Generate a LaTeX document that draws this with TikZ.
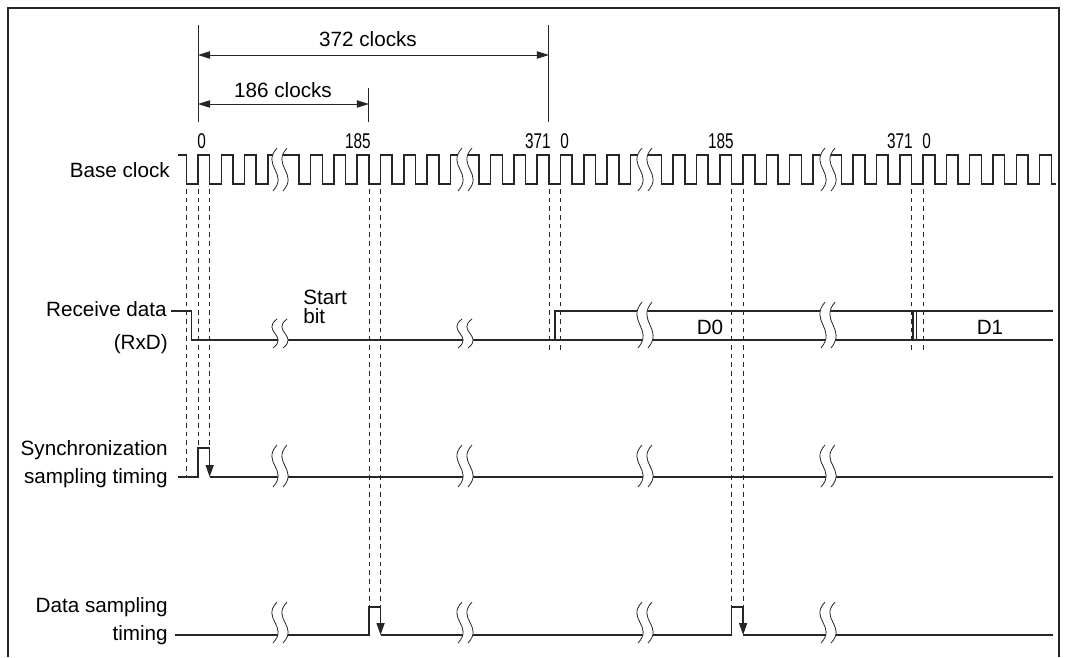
\documentclass[tikz,border=0pt]{standalone}
\usepackage{fontspec}
\setmainfont{Liberation Sans}
\usepackage{graphicx}
\usepackage{tikz}
\usetikzlibrary{arrows.meta,calc}

\tikzset{
  sig/.style={line width=1.15pt, line join=miter, black!85},
  guide/.style={dash pattern=on 3.5pt off 3pt, line width=0.6pt, black!85},
  dim/.style={line width=0.7pt, black!85},
  dimarrow/.style={dim, {Triangle[length=9pt,width=5.5pt]}-{Triangle[length=9pt,width=5.5pt]}},
  samplearrow/.style={sig, -{Triangle[length=9pt,width=6pt]}},
  rowlabel/.style={anchor=base east, inner sep=0pt},
  ticklabel/.style={inner sep=0pt, font=\fontsize{16}{18}\selectfont},
}

% break mark: x centre, top, bottom
\newcommand{\sigbreak}[3]{%
  \pgfmathsetmacro{\brkup}{#2+0.42*(#3-#2)}%
  \pgfmathsetmacro{\brklo}{#3-0.42*(#3-#2)}%
  \fill[white] (#1-3,#2) .. controls (#1-19,\brkup) and (#1+9,\brklo) .. (#1-7,#3)
    -- (#1+3,#3) .. controls (#1+19,\brklo) and (#1-9,\brkup) .. (#1+7,#2) -- cycle;
  \draw[line width=0.6pt, black!85] (#1-3,#2) .. controls (#1-19,\brkup) and (#1+9,\brklo) .. (#1-7,#3);
  \draw[line width=0.6pt, black!85] (#1+7,#2) .. controls (#1-9,\brkup) and (#1+19,\brklo) .. (#1+3,#3);
}

\begin{document}
\begin{tikzpicture}[x=0.75pt, y=-0.75pt, font=\fontsize{15.5}{18}\selectfont]
    \useasboundingbox (0,0) rectangle (1066,657);
    \def\hi{155}
    \def\lo{184}
    \def\hp{11.65}
    \def\per{23.3}

    % frame
    \draw[line width=0.8pt, black!85] (8,657) -- (8,8) -- (1059,8) -- (1059,657);

    % base clock
    \draw[sig] (178,\hi) -- (186.35,\hi) -- (186.35,\lo)
      \foreach \R in {198,560.55} {
        \foreach \n in {0,1,2} {
          -- (\R+\n*\per,\lo) -- (\R+\n*\per,\hi) -- (\R+\n*\per+\hp,\hi) -- (\R+\n*\per+\hp,\lo)
        }
        -- (\R+3*\per,\lo) -- (\R+3*\per,\hi) -- (\R+101,\hi) -- (\R+101,\lo)
        \foreach \n in {0,...,5} {
          -- (\R+101+\n*\per+\hp,\lo) -- (\R+101+\n*\per+\hp,\hi) -- (\R+101+\n*\per+\per,\hi) -- (\R+101+\n*\per+\per,\lo)
        }
        -- (\R+252.45,\lo) -- (\R+252.45,\hi) -- (\R+281,\hi) -- (\R+281,\lo)
        \foreach \n in {0,1,2} {
          -- (\R+281+\n*\per+\hp,\lo) -- (\R+281+\n*\per+\hp,\hi) -- (\R+281+\n*\per+\per,\hi) -- (\R+281+\n*\per+\per,\lo)
        }
      }
      \foreach \n in {0,...,5} {
        -- (923.1+\n*\per,\lo) -- (923.1+\n*\per,\hi) -- (923.1+\n*\per+\hp,\hi) -- (923.1+\n*\per+\hp,\lo)
      }
      -- (1056,\lo);

    % receive data
    \draw[sig] (171,311) -- (191.7,311) -- (191.7,340) -- (1053,340);
    \draw[sig] (555,340) -- (555,311) -- (1053,311);
    \draw[sig] (913,311) -- (913,340);
    \draw[sig] (916.5,311) -- (916.5,340);

    % synchronization sampling
    \draw[sig] (178,477) -- (198,477) -- (198,448) -- (209.65,448);
    \draw[samplearrow] (209.65,448) -- (209.65,477);
    \draw[sig] (209.65,477) -- (1053,477);

    % data sampling
    \draw[sig] (175,635) -- (368.9,635) -- (368.9,607) -- (380.55,607);
    \draw[samplearrow] (380.55,607) -- (380.55,635);
    \draw[sig] (380.55,635) -- (731.45,635) -- (731.45,607) -- (743.1,607);
    \draw[samplearrow] (743.1,607) -- (743.1,635);
    \draw[sig] (743.1,635) -- (1053,635);

    % breaks
    \foreach \b in {280,465,645,828} {
        \sigbreak{\b}{148}{191}
        \sigbreak{\b}{445}{487}
        \sigbreak{\b}{602}{643}
    }
    \sigbreak{280}{319}{348}
    \sigbreak{465}{319}{348}
    \sigbreak{645}{302}{348}
    \sigbreak{828}{302}{348}

    % guide lines
    \foreach \x/\y in {186.35/477, 198/448, 209.65/448, 368.9/607, 380.55/607,
                       548.9/350, 560.55/350, 731.45/607, 743.1/607, 911.45/350, 923.1/350} {
        \draw[guide] (\x,189) -- (\x,\y);
    }

    % clock counts
    \coordinate (w372) at (198,55);
    \coordinate (e372) at (548.9,55);
    \coordinate (w186) at (198,104);
    \coordinate (e186) at (368.9,104);
    \draw[dim] (198,25) -- (198,122);
    \draw[dim] (548.9,25) -- (548.9,122);
    \draw[dim] (368.9,88) -- (368.9,122);
    \draw[dimarrow] (w372) -- (e372);
    \draw[dimarrow] (w186) -- (e186);
    \node[anchor=base, inner sep=0pt] (lbl372) at (368,46) {372 clocks};
    \node[anchor=base, inner sep=0pt] (lbl186) at (283,97) {186 clocks};

    \node[ticklabel, anchor=base west] (t0a) at (197,148) {\scalebox{0.72}[1]{0}};
    \node[ticklabel, anchor=base east] (t185a) at (371,148) {\scalebox{0.72}[1]{185}};
    \node[ticklabel, anchor=base east] (t371a) at (551,148) {\scalebox{0.72}[1]{371}};
    \node[ticklabel, anchor=base west] (t0b) at (560,148) {\scalebox{0.72}[1]{0}};
    \node[ticklabel, anchor=base east] (t185b) at (734,148) {\scalebox{0.72}[1]{185}};
    \node[ticklabel, anchor=base east] (t371b) at (913,148) {\scalebox{0.72}[1]{371}};
    \node[ticklabel, anchor=base west] (t0c) at (922,148) {\scalebox{0.72}[1]{0}};

    % row labels
    \node[rowlabel] (lclk) at (170,177) {Base clock};
    \node[rowlabel] (lrx1) at (167,316) {Receive data};
    \node[rowlabel] (lrx2) at (168,349) {(RxD)};
    \node[rowlabel] (lsy1) at (168,455) {Synchronization};
    \node[rowlabel] (lsy2) at (168,483) {sampling timing};
    \node[rowlabel] (lds1) at (168,612) {Data sampling};
    \node[rowlabel] (lds2) at (168,640) {timing};

    \node[anchor=base west, inner sep=0pt] (lstart) at (303,304) {Start};
    \node[anchor=base west, inner sep=0pt] (lbit) at (303,323) {bit};
    \node[anchor=base, inner sep=0pt] (ld0) at (710,334) {D0};
    \node[anchor=base, inner sep=0pt] (ld1) at (990,334) {D1};
\end{tikzpicture}
\end{document}
